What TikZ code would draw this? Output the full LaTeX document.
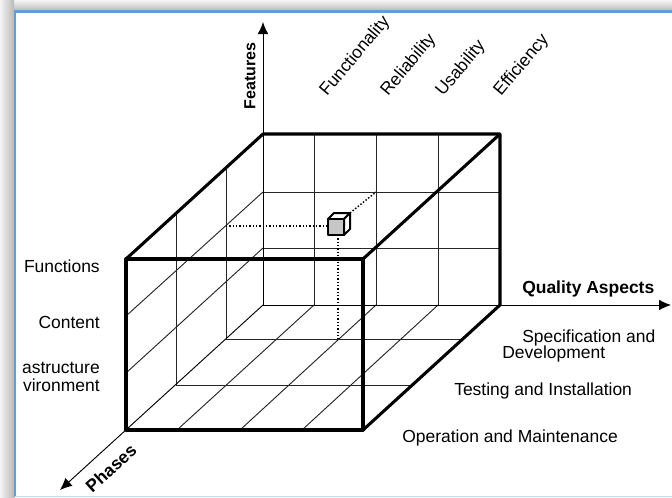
\documentclass[tikz,border=0pt]{standalone}
\usepackage{fontspec}
\setmainfont{Liberation Sans}
\usetikzlibrary{arrows.meta}
\definecolor{winblue}{RGB}{96,158,218}
\definecolor{winblue2}{RGB}{196,220,242}
\tikzset{%
  rim/.style={line width=2.3pt, line join=round}, % outer edges of the cube
  gridline/.style={line width=0.7pt, black!85},
  dots/.style={line width=1.1pt, dash pattern=on 1.1pt off 1.4pt},
  axisline/.style={line width=0.7pt, ->, >={Latex[length=9pt,width=8pt]}},
  lbl/.style={inner sep=0pt, font=\fontsize{13.1}{15}\selectfont},
  blbl/.style={inner sep=0pt, font=\fontsize{13.1}{15}\selectfont\bfseries}
}

\begin{document}
\begin{tikzpicture}[x=0.75pt, y=-0.75pt]
\useasboundingbox (0,0) rectangle (672,497);

% window frame
\fill[white] (0,0) rectangle (672,497);
\shade[top color=gray!8, bottom color=gray!55] (0,0) rectangle (672,11);
\shade[left color=gray!8, right color=gray!55] (0,0) rectangle (14,497);
\draw[winblue, line width=1.6pt] (672,11.5) -- (15,11.5) -- (15,497);
\draw[winblue2, line width=0.8pt] (15,496.5) -- (672,496.5);

% corners of the cube
\coordinate (o) at (263,305);
\coordinate (a0) at (126,430);
\coordinate (a1) at (363,430);
\coordinate (a2) at (363,259);
\coordinate (a3) at (126,259);
\coordinate (b1) at (500,305);
\coordinate (b2) at (500,134);
\coordinate (b3) at (263,134);

% back wall
\draw[gridline] (314,134) -- (314,305);
\draw[gridline] (376,134) -- (376,305);
\draw[gridline] (438,134) -- (438,305);
\draw[gridline] (263,192) -- (500,192);
\draw[gridline] (263,248) -- (500,248);

% left wall
\draw[gridline] (176,214) -- (176,385);
\draw[gridline] (226,168) -- (226,339);
\draw[gridline] (126,316) -- (263,192);
\draw[gridline] (126,373) -- (263,248);

% floor
\draw[gridline] (176,385) -- (413,385);
\draw[gridline] (226,339) -- (463,339);
\draw[gridline] (177,430) -- (314,305);
\draw[gridline] (240,430) -- (376,305);
\draw[gridline] (302,430) -- (438,305);

% axes
\coordinate (ftip) at (263,22);
\coordinate (qtip) at (671,305);
\coordinate (ptip) at (60,490);
\draw[axisline] (o) -- (ftip);
\draw[axisline] (o) -- (qtip);
\draw[axisline] (o) -- (ptip);

% projections of the marked cell
\draw[dots] (226,226) -- (328,226);
\draw[dots] (338,235) -- (338,339);
\draw[dots] (350,213) -- (376,192);

% cube outline
\draw[rim] (a0) rectangle (a2);
\draw[rim] (a3) -- (b3) -- (b2) -- (b1) -- (a1);
\draw[rim] (a2) -- (b2);

% marked cell
\coordinate (c0) at (328,235);
\coordinate (c1) at (344,235);
\coordinate (c2) at (344,219);
\coordinate (c3) at (328,219);
\coordinate (c4) at (350,229);
\coordinate (c5) at (350,213);
\coordinate (c6) at (334,213);
\filldraw[fill=white, line width=1.5pt, line join=round] (c3) -- (c6) -- (c5) -- (c2) -- cycle;
\filldraw[fill=white, line width=1.5pt, line join=round] (c2) -- (c5) -- (c4) -- (c1) -- cycle;
\filldraw[fill=gray!45, line width=1.5pt, line join=round] (c0) rectangle (c2);

% labels
\node[blbl, rotate=90, font=\fontsize{12}{14}\selectfont\bfseries] (features) at (250,76) {Features};
\node[blbl, rotate=42] (phases) at (111,468) {Phases};
\node[blbl, anchor=base west] (quality) at (522,293) {Quality Aspects};

\node[lbl, rotate=50, anchor=base west] (func) at (327,97) {Functionality};
\node[lbl, rotate=50, anchor=base west] (reli) at (388,97) {Reliability};
\node[lbl, rotate=50, anchor=base west] (usab) at (443,97) {Usability};
\node[lbl, rotate=50, anchor=base west] (effi) at (501,97) {Efficiency};

\node[lbl, anchor=base east] (functions) at (100,272) {Functions};
\node[lbl, anchor=base east] (content) at (100,328) {Content};
\node[lbl, anchor=base east] (infra) at (100,373) {astructure};
\node[lbl, anchor=base east] (envir) at (100,391) {vironment};

\node[lbl, anchor=base west] (spec) at (522,342) {Specification and};
\node[lbl, anchor=base west] (dev) at (502,358) {Development};
\node[lbl, anchor=base west] (test) at (454,395) {Testing and Installation};
\node[lbl, anchor=base west] (oper) at (402,442) {Operation and Maintenance};

\end{tikzpicture}
\end{document}
